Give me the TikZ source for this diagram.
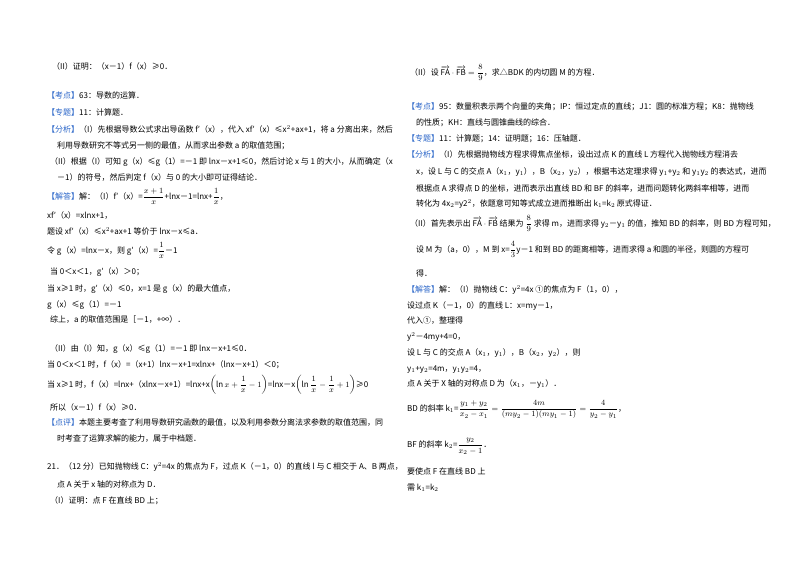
\documentclass[tikz,border=0pt]{standalone}
\usepackage{amsmath}
\usepackage{fontspec}
\setmainfont{Noto Sans CJK SC}
\definecolor{kblue}{RGB}{40,100,200}
\tikzset{t/.style={anchor=base west,inner sep=0pt,font=\fontsize{8.0}{10}\selectfont}}
\newcommand{\kl}[1]{\textcolor{kblue}{【#1】}}
\newcommand{\vFA}{\overrightarrow{\mathrm{FA}}}
\newcommand{\vFB}{\overrightarrow{\mathrm{FB}}}
\begin{document}
\begin{tikzpicture}[x=1pt,y=-1pt]
\useasboundingbox[fill=white] (0,0) rectangle (800,565);
% left column
\node[t] (a1) at (52,69) {（II）证明：（x－1）f（x）≥0．};
\node[t] (a2) at (47,98) {\kl{考点}63：导数的运算．};
\node[t] (a3) at (47,115) {\kl{专题}11：计算题．};
\node[t] (a4) at (47,132) {\kl{分析}（I）先根据导数公式求出导函数 f′（x），代入 xf′（x）≤x$^2$+ax+1，将 a 分离出来，然后};
\node[t] (a5) at (57,148) {利用导数研究不等式另一侧的最值，从而求出参数 a 的取值范围；};
\node[t] (a6) at (50,164) {（II）根据（I）可知 g（x）≤g（1）=－1 即 lnx－x+1≤0，然后讨论 x 与 1 的大小，从而确定（x};
\node[t] (a7) at (57,180) {－1）的符号，然后判定 f（x）与 0 的大小即可证得结论．};
\node[t] (a8) at (47,199) {\kl{解答}解：（I）f′（x）=$\displaystyle\frac{x+1}{x}$+lnx－1=lnx+$\displaystyle\frac{1}{x}$，};
\node[t] (a9) at (47,218) {xf′（x）=xlnx+1，};
\node[t] (a10) at (47,234) {题设 xf′（x）≤x$^2$+ax+1 等价于 lnx－x≤a．};
\node[t] (a11) at (47,253) {令 g（x）=lnx－x，则 g′（x）=$\displaystyle\frac{1}{x}$－1};
\node[t] (a12) at (50,274) {当 0＜x＜1，g′（x）＞0；};
\node[t] (a13) at (47,291) {当 x≥1 时，g′（x）≤0，x=1 是 g（x）的最大值点，};
\node[t] (a14) at (47,307) {g（x）≤g（1）=－1};
\node[t] (a15) at (50,322) {综上，a 的取值范围是［－1，+∞）．};
\node[t] (a16) at (50,351) {（II）由（I）知，g（x）≤g（1）=－1 即 lnx－x+1≤0．};
\node[t] (a17) at (47,367) {当 0＜x＜1 时，f（x）=（x+1）lnx－x+1=xlnx+（lnx－x+1）＜0；};
\node[t] (a18) at (47,387) {当 x≥1 时，f（x）=lnx+（xlnx－x+1）=lnx+x$\left(\ln x+\displaystyle\frac{1}{x}-1\right)$=lnx－x$\left(\ln\displaystyle\frac{1}{x}-\frac{1}{x}+1\right)$≥0};
\node[t] (a19) at (50,410) {所以（x－1）f（x）≥0．};
\node[t] (a20) at (47,425) {\kl{点评}本题主要考查了利用导数研究函数的最值，以及利用参数分离法求参数的取值范围，同};
\node[t] (a21) at (57,441) {时考查了运算求解的能力，属于中档题．};
\node[t] (a22) at (47,469) {21．（12 分）已知抛物线 C：y$^2$=4x 的焦点为 F，过点 K（－1，0）的直线 l 与 C 相交于 A、B 两点，};
\node[t] (a23) at (57,487) {点 A 关于 x 轴的对称点为 D．};
\node[t] (a24) at (50,503) {（I）证明：点 F 在直线 BD 上；};
% right column
\node[t] (b1) at (410,75) {（II）设 $\vFA\cdot\vFB=\displaystyle\frac{8}{9}$，求△BDK 的内切圆 M 的方程．};
\node[t] (b2) at (407,109) {\kl{考点}95：数量积表示两个向量的夹角；IP：恒过定点的直线；J1：圆的标准方程；K8：抛物线};
\node[t] (b3) at (416,125) {的性质；KH：直线与圆锥曲线的综合．};
\node[t] (b4) at (407,141) {\kl{专题}11：计算题；14：证明题；16：压轴题．};
\node[t] (b5) at (407,157) {\kl{分析}（I）先根据抛物线方程求得焦点坐标，设出过点 K 的直线 L 方程代入抛物线方程消去};
\node[t] (b6) at (416,174) {x，设 L 与 C 的交点 A（x$_1$，y$_1$），B（x$_2$，y$_2$），根据韦达定理求得 y$_1$+y$_2$ 和 y$_1$y$_2$ 的表达式，进而};
\node[t] (b7) at (416,191) {根据点 A 求得点 D 的坐标，进而表示出直线 BD 和 BF 的斜率，进而问题转化两斜率相等，进而};
\node[t] (b8) at (416,206) {转化为 4x$_2$=y2$^2$，依题意可知等式成立进而推断出 k$_1$=k$_2$ 原式得证．};
\node[t] (b9) at (410,226) {（II）首先表示出 $\vFA\cdot\vFB$ 结果为 $\displaystyle\frac{8}{9}$ 求得 m，进而求得 y$_2$－y$_1$ 的值，推知 BD 的斜率，则 BD 方程可知，};
\node[t] (b10) at (416,252) {设 M 为（a，0），M 到 x=$\displaystyle\frac{4}{3}$y－1 和到 BD 的距离相等，进而求得 a 和圆的半径，则圆的方程可};
\node[t] (b11) at (416,276) {得．};
\node[t] (b12) at (407,292) {\kl{解答}解：（I）抛物线 C：y$^2$=4x ①的焦点为 F（1，0），};
\node[t] (b13) at (407,308) {设过点 K（－1，0）的直线 L：x=my－1，};
\node[t] (b14) at (407,323) {代入①，整理得};
\node[t] (b15) at (407,339) {y$^2$－4my+4=0，};
\node[t] (b16) at (407,355) {设 L 与 C 的交点 A（x$_1$，y$_1$），B（x$_2$，y$_2$），则};
\node[t] (b17) at (407,371) {y$_1$+y$_2$=4m，y$_1$y$_2$=4，};
\node[t] (b18) at (407,386) {点 A 关于 X 轴的对称点 D 为（x$_1$，－y$_1$）．};
\node[t] (b19) at (407,411) {BD 的斜率 k$_1$=$\displaystyle\frac{y_1+y_2}{x_2-x_1}=\frac{4m}{(my_2-1)(my_1-1)}=\frac{4}{y_2-y_1}$，};
\node[t] (b20) at (407,447) {BF 的斜率 k$_2$=$\displaystyle\frac{y_2}{x_2-1}$．};
\node[t] (b21) at (407,474) {要使点 F 在直线 BD 上};
\node[t] (b22) at (407,490) {需 k$_1$=k$_2$};
\end{tikzpicture}
\end{document}
